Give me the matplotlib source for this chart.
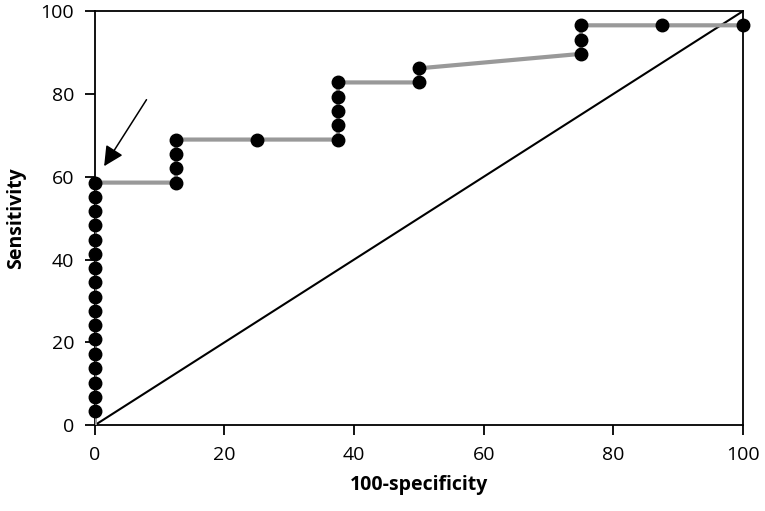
import matplotlib
matplotlib.use("agg")
import matplotlib.pyplot as plt

# ROC points (100-specificity, sensitivity)
fpr = [0, 0, 0, 0, 0, 0, 0, 0, 0, 0, 0, 0, 0, 0, 0, 0, 0, 0,
       12.5, 12.5, 12.5, 12.5, 25,
       37.5, 37.5, 37.5, 37.5, 37.5,
       50, 50, 75, 75, 75, 87.5, 100]
sens = [0, 3.45, 6.9, 10.3, 13.8, 17.2, 20.7, 24.1, 27.6, 31.0, 34.5, 37.9,
        41.4, 44.8, 48.3, 51.7, 55.2, 58.6,
        58.6, 62.1, 65.5, 69.0, 69.0,
        69.0, 72.4, 75.9, 79.3, 82.8,
        82.8, 86.2, 89.7, 93.1, 96.6, 96.6, 96.6]
ticks = [0, 20, 40, 60, 80, 100]

plt.rcParams["font.family"] = ["Open Sans", "DejaVu Sans"]
fig = plt.figure(figsize=(7.65, 5.11), dpi=100)
ax = fig.add_axes([0.124, 0.168, 0.847, 0.81])

ax.plot([0, 100], [0, 100], color="black", lw=1.5, zorder=2)
ax.plot(fpr, sens, color="#999999", lw=3, zorder=3)
ax.plot(fpr[1:], sens[1:], "o", color="black", ms=9, zorder=4, clip_on=False)

ax.annotate("", xy=(1.2, 62.0), xytext=(8.2, 79.2),
            arrowprops=dict(arrowstyle="-|>", color="black", lw=1.1,
                            mutation_scale=30))

ax.set_xlim(0, 100)
ax.set_ylim(0, 100)
ax.set_xticks(ticks)
ax.set_yticks(ticks)
ax.tick_params(direction="out", length=7, width=1.3, labelsize=14, pad=8)
for s in ax.spines.values():
    s.set_linewidth(1.3)
ax.set_xlabel("100-specificity", fontsize=14, fontweight="bold", labelpad=8)
ax.set_ylabel("Sensitivity", fontsize=14, fontweight="bold", labelpad=10)

fig.savefig("out.png", dpi=100)
